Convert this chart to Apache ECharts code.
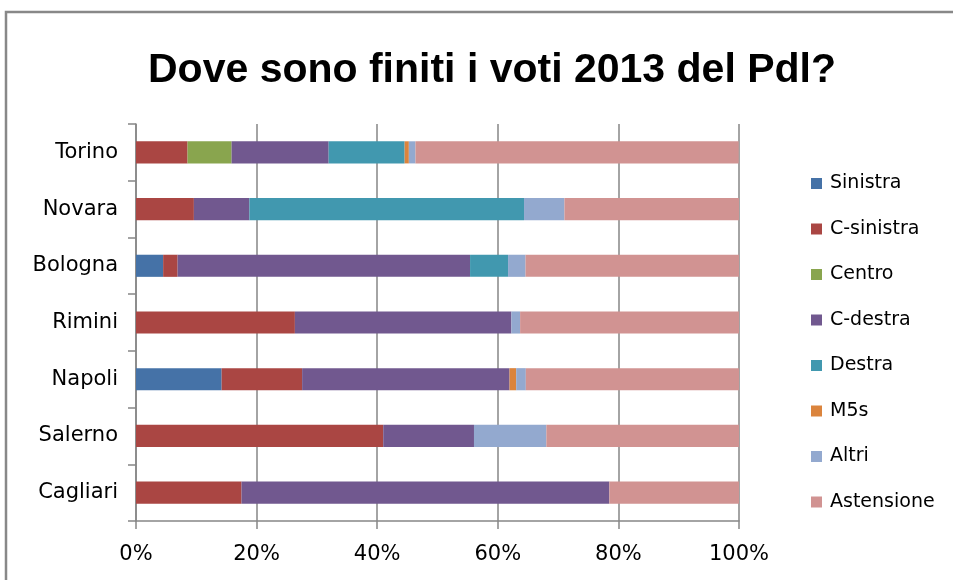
<!DOCTYPE html>
<html>
<head>
<meta charset="utf-8">
<script src="https://cdn.jsdelivr.net/npm/echarts@6/dist/echarts.min.js"></script>
<style>html,body{margin:0;padding:0;background:#fff}#c{width:953px;height:580px}</style>
</head>
<body>
<div id="c"></div>
<script>
var categories = ["Torino", "Novara", "Bologna", "Rimini", "Napoli", "Salerno", "Cagliari"];
var seriesNames = ["Sinistra", "C-sinistra", "Centro", "C-destra", "Destra", "M5s", "Altri", "Astensione"];
var sinistra   = [0,    0,    4.5,  0,    14.2, 0,    0];
var cSinistra  = [8.55, 9.6,  2.4,  26.35, 13.35, 41.0, 17.5];
var centro     = [7.3,  0,    0,    0,    0,    0,    0];
var cDestra    = [16.1, 9.2,  48.5, 35.9, 34.4, 15.05, 61.0];
var destra     = [12.6, 45.55, 6.3, 0,    0,    0,    0];
var m5s        = [0.7,  0,    0,    0,    1.1,  0,    0];
var altri      = [1.1,  6.7,  2.9,  1.45, 1.6,  12.0, 0];
var astensione = [53.6, 28.95, 35.4, 36.3, 35.35, 31.95, 21.5];
var tickLabels = ["0%", "20%", "40%", "60%", "80%", "100%"];
var colors = ["#4572A7", "#AA4643", "#89A54E", "#71588F", "#4198AF", "#DB843D", "#93A9CF", "#D19392"];

var allData = [sinistra, cSinistra, centro, cDestra, destra, m5s, altri, astensione];
var series = seriesNames.map(function (n, i) {
  return {
    name: n, type: 'bar', stack: 'tot', barCategoryGap: '61%',
    itemStyle: { color: colors[i] },
    data: allData[i]
  };
});

var chart = echarts.init(document.getElementById('c'), null, { renderer: 'canvas' });
chart.setOption({
  animation: false,
  backgroundColor: '#fff',
  title: {
    text: 'Dove sono finiti i voti 2013 del Pdl?',
    left: 487, top: 45, textAlign: 'center',
    textStyle: { fontFamily: 'Liberation Sans', fontWeight: 'bold', fontSize: 41, color: '#000' }
  },
  graphic: [{
    type: 'rect', shape: { x: 6, y: 12, width: 1000, height: 700 },
    style: { fill: 'none', stroke: '#888', lineWidth: 2.5 }, z: 100
  }],
  legend: {
    orient: 'vertical', left: 811, top: 174, padding: 0,
    itemWidth: 11, itemHeight: 11, itemGap: 26.5,
    icon: 'rect',
    textStyle: { fontFamily: 'DejaVu Sans', fontSize: 19, lineHeight: 19, color: '#000', padding: [0, 0, 0, 3] },
    data: seriesNames
  },
  grid: { left: 136, top: 124, width: 603, height: 397, containLabel: false },
  xAxis: {
    type: 'value', min: 0, max: 100, interval: 20,
    axisLine: { show: true, lineStyle: { color: '#868686', width: 1.5 } },
    axisTick: { show: true, length: 8, lineStyle: { color: '#868686', width: 1.5 } },
    splitLine: { show: true, lineStyle: { color: '#868686', width: 1.5 } },
    axisLabel: {
      margin: 23, fontFamily: 'DejaVu Sans', fontSize: 21, color: '#000',
      formatter: function (v) { return tickLabels[Math.round(v / 20)]; }
    }
  },
  yAxis: {
    type: 'category', inverse: true, data: categories,
    axisLine: { show: true, lineStyle: { color: '#868686', width: 1.5 } },
    axisTick: { show: true, length: 8, lineStyle: { color: '#868686', width: 1.5 } },
    axisLabel: { margin: 18, fontFamily: 'DejaVu Sans', fontSize: 21, color: '#000' }
  },
  series: series
});
</script>
</body>
</html>
